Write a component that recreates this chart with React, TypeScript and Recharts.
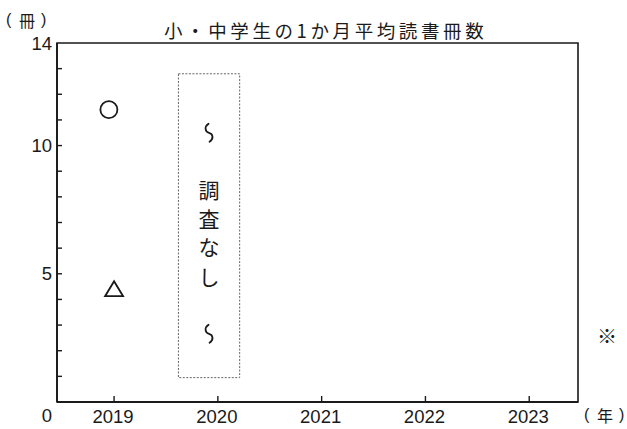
import { ScatterChart, Scatter, XAxis, YAxis, ReferenceArea } from 'recharts';

// values
const years = [2019, 2020, 2021, 2022, 2023];
const yMinorTicks = [0, 1, 2, 3, 4, 5, 6, 7, 8, 9, 10, 11, 12, 13, 14];
const yLabelTicks = [0, 5, 10, 14];
const elementary = [{ year: 2018.95, books: 11.4 }];
const juniorHigh = [{ year: 2019, books: 4.4 }];
const noSurveyYears = [2019.62, 2020.21];
const noSurveyBooks = [0.95, 12.8];
const noSurveyText = ['〜', '調', '査', 'な', 'し', '〜'];

const FONT = "'Liberation Sans', 'Noto Sans CJK JP', sans-serif";
const JP = "'Noto Sans CJK JP', sans-serif";
const INK = '#1a1a1a';

const YTick = (props: any) => {
    const { x, y, payload } = props;
    const v = payload.value;
    const showLabel = yLabelTicks.includes(v);
    return (
        <g>
            {v !== 0 && v !== 14 && <line x1={x} x2={x + 5} y1={y} y2={y} stroke={INK} strokeWidth={1.4} />}
            {showLabel && (
                <text
                    x={x - 5}
                    y={v === 0 ? y + 13 : y}
                    textAnchor="end"
                    dominantBaseline="central"
                    fontSize={18.5}
                    fontFamily={FONT}
                    fill={INK}
                >
                    {v}
                </text>
            )}
        </g>
    );
};

const XTick = (props: any) => {
    const { x, y, payload } = props;
    return (
        <g>
            <line x1={x} x2={x} y1={y} y2={y - 6} stroke={INK} strokeWidth={1.4} />
            <text x={x - 1} y={y + 14} textAnchor="middle" dominantBaseline="central" fontSize={18.5} fontFamily={FONT} fill={INK}>
                {payload.value}
            </text>
        </g>
    );
};

const CircleMark = (props: any) => (
    <circle cx={props.cx} cy={props.cy} r={8.5} fill="none" stroke={INK} strokeWidth={1.8} />
);

const TriangleMark = (props: any) => {
    const { cx, cy } = props;
    return (
        <path
            d={`M${cx},${cy - 8} L${cx + 9},${cy + 7} L${cx - 9},${cy + 7} Z`}
            fill="none"
            stroke={INK}
            strokeWidth={1.8}
            strokeLinejoin="miter"
        />
    );
};

// vertical "no survey" text inside the dotted box
const charOffsets = [59, 115, 144, 172, 202, 260];
const NoSurveyLabel = (props: any) => {
    const { viewBox } = props;
    if (!viewBox) return null;
    const cx = viewBox.x + viewBox.width / 2;
    return (
        <g>
            {noSurveyText.map((ch, i) => {
                const cy = viewBox.y + charOffsets[i];
                if (ch === '〜') {
                    // vertical wave dash
                    return (
                        <path
                            key={i}
                            d={`M${cx - 0.5},${cy - 9} C${cx - 5},${cy - 6} ${cx - 4},${cy - 1} ${cx},${cy} C${cx + 4},${cy + 1} ${cx + 5},${cy + 6} ${cx + 0.5},${cy + 9}`}
                            fill="none"
                            stroke={INK}
                            strokeWidth={1.8}
                            strokeLinecap="round"
                        />
                    );
                }
                return (
                    <text
                        key={i}
                        x={cx}
                        y={cy}
                        textAnchor="middle"
                        dominantBaseline="central"
                        fontSize={21}
                        fontFamily={JP}
                        fill={INK}
                    >
                        {ch}
                    </text>
                );
            })}
        </g>
    );
};

// unit label like （冊） with spaced parentheses
const UnitLabel = ({ text, left, top }: { text: string; left: number; top: number }) => (
    <div style={{ position: 'absolute', left, top, width: 42, height: 20, fontSize: 16, lineHeight: '20px', whiteSpace: 'nowrap' }}>
        <span style={{ position: 'absolute', left: 0, fontFamily: FONT }}>(</span>
        <span style={{ position: 'absolute', left: 13, fontFamily: JP }}>{text}</span>
        <span style={{ position: 'absolute', left: 35, fontFamily: FONT }}>)</span>
    </div>
);

export default function App() {
    return (
        <div style={{ position: 'absolute', left: 0, top: 0, width: 627, height: 429, background: '#fff', fontFamily: JP, color: INK }}>
            <UnitLabel text="冊" left={6} top={10} />
            <div style={{ position: 'absolute', left: 164, top: 17, fontSize: 18.5, letterSpacing: 3.6, whiteSpace: 'nowrap' }}>
                小・中学生の1か月平均読書冊数
            </div>
            <div style={{ position: 'absolute', left: 597, top: 321, fontSize: 20 }}>※</div>
            <UnitLabel text="年" left={584} top={405} />
            <ScatterChart width={627} height={429} margin={{ top: 43, right: 49, left: 0, bottom: 0 }}>
                <XAxis
                    type="number"
                    dataKey="year"
                    domain={[2018.45, 2023.47]}
                    ticks={years}
                    allowDataOverflow
                    height={27}
                    tickSize={0}
                    tickMargin={0}
                    tickLine={false}
                    tick={<XTick />}
                    axisLine={{ stroke: INK, strokeWidth: 1.8 }}
                />
                <YAxis
                    type="number"
                    dataKey="books"
                    domain={[0, 14]}
                    ticks={yMinorTicks}
                    interval={0}
                    allowDataOverflow
                    width={57}
                    tickSize={0}
                    tickMargin={0}
                    tickLine={false}
                    tick={<YTick />}
                    axisLine={{ stroke: INK, strokeWidth: 1.8 }}
                />
                <ReferenceArea x1={2018.45} x2={2023.47} y1={0} y2={14} fill="none" stroke={INK} strokeWidth={1.6} ifOverflow="extendDomain" />
                <ReferenceArea
                    x1={noSurveyYears[0]}
                    x2={noSurveyYears[1]}
                    y1={noSurveyBooks[0]}
                    y2={noSurveyBooks[1]}
                    fill="none"
                    stroke="#666"
                    strokeWidth={1}
                    strokeDasharray="2 1.5"
                    label={<NoSurveyLabel />}
                />
                <Scatter data={elementary} shape={<CircleMark />} isAnimationActive={false} />
                <Scatter data={juniorHigh} shape={<TriangleMark />} isAnimationActive={false} />
            </ScatterChart>
        </div>
    );
}
